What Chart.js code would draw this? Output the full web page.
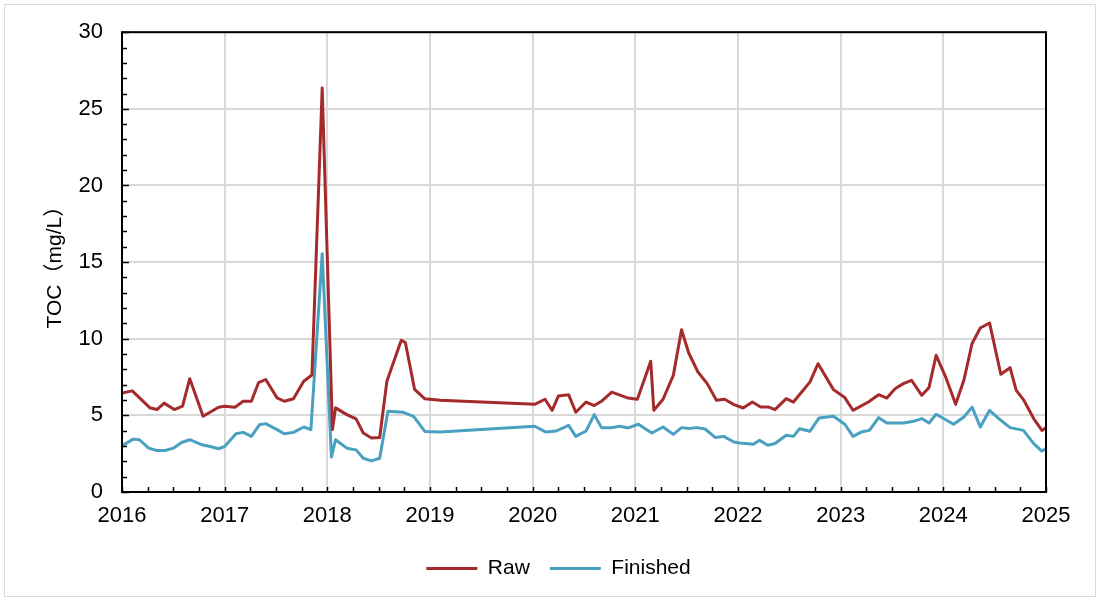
<!DOCTYPE html>
<html>
<head>
<meta charset="utf-8">
<title>TOC Raw vs Finished</title>
<script src="https://cdn.jsdelivr.net/npm/chart.js@4/dist/chart.umd.min.js"></script>
<style>
    html, body { margin: 0; padding: 0; background: #fff; }
    #wrap { position: relative; width: 1100px; height: 601px; }
    #frame { position: absolute; left: 4px; top: 4px; right: 4px; bottom: 4px; border: 1px solid #d9d9d9; pointer-events: none; }
</style>
</head>
<body>
<div id="wrap">
    <canvas id="myChart" width="1100" height="601"></canvas>
    <div id="frame"></div>
</div>
<script>
// Sample dates as decimal years, values in mg/L
const rawYears = [2016.00, 2016.10, 2016.27, 2016.34, 2016.41, 2016.51, 2016.59, 2016.66, 2016.79, 2016.94,
    2017.00, 2017.10, 2017.18, 2017.26, 2017.33, 2017.40, 2017.51, 2017.58, 2017.67, 2017.77, 2017.85, 2017.95,
    2018.05, 2018.08, 2018.19, 2018.28, 2018.35, 2018.43, 2018.51, 2018.58, 2018.72, 2018.76, 2018.85, 2018.95,
    2019.10, 2020.02, 2020.12, 2020.19, 2020.25, 2020.35, 2020.42, 2020.52, 2020.60, 2020.67, 2020.77, 2020.93,
    2021.02, 2021.15, 2021.18, 2021.27, 2021.37, 2021.45, 2021.52, 2021.61, 2021.70, 2021.79, 2021.87, 2021.96,
    2022.05, 2022.14, 2022.22, 2022.30, 2022.36, 2022.47, 2022.54, 2022.70, 2022.78, 2022.93,
    2023.04, 2023.12, 2023.27, 2023.37, 2023.45, 2023.53, 2023.61, 2023.69, 2023.79, 2023.86, 2023.93,
    2024.02, 2024.12, 2024.20, 2024.28, 2024.36, 2024.45, 2024.56, 2024.65, 2024.71, 2024.78, 2024.88, 2024.96, 2025.00];
const rawToc = [6.45, 6.6, 5.5, 5.38, 5.8, 5.38, 5.6, 7.39, 4.94, 5.53,
    5.6, 5.53, 5.92, 5.92, 7.13, 7.34, 6.14, 5.92, 6.08, 7.23, 7.63, 26.36,
    4.07, 5.49, 5.05, 4.77, 3.85, 3.52, 3.56, 7.23, 9.9, 9.75, 6.69, 6.08,
    5.99, 5.72, 6.05, 5.33, 6.26, 6.35, 5.2, 5.87, 5.64, 5.92, 6.52, 6.13,
    6.05, 8.53, 5.33, 6.05, 7.61, 10.59, 9.07, 7.83, 7.07, 5.98, 6.05, 5.7,
    5.48, 5.87, 5.54, 5.54, 5.37, 6.09, 5.87, 7.17, 8.37, 6.68,
    6.16, 5.33, 5.87, 6.35, 6.13, 6.74, 7.07, 7.29, 6.31, 6.81, 8.92,
    7.55, 5.72, 7.29, 9.69, 10.7, 11.03, 7.68, 8.11, 6.63, 6.03, 4.79, 4.02, 4.2];

const finYears = [2016.00, 2016.11, 2016.17, 2016.26, 2016.34, 2016.42, 2016.50, 2016.58, 2016.66, 2016.78, 2016.86, 2016.94,
    2017.00, 2017.11, 2017.18, 2017.26, 2017.34, 2017.40, 2017.51, 2017.58, 2017.67, 2017.77, 2017.84, 2017.95,
    2018.04, 2018.08, 2018.19, 2018.28, 2018.35, 2018.43, 2018.51, 2018.59, 2018.74, 2018.84, 2018.95,
    2019.10, 2020.02, 2020.13, 2020.23, 2020.35, 2020.42, 2020.52, 2020.60, 2020.67, 2020.77, 2020.85, 2020.93,
    2021.03, 2021.16, 2021.27, 2021.37, 2021.45, 2021.52, 2021.60, 2021.68, 2021.78, 2021.86, 2021.96,
    2022.02, 2022.15, 2022.21, 2022.29, 2022.36, 2022.47, 2022.54, 2022.60, 2022.70, 2022.79, 2022.93,
    2023.04, 2023.12, 2023.20, 2023.28, 2023.37, 2023.45, 2023.61, 2023.71, 2023.79, 2023.86, 2023.93,
    2024.10, 2024.20, 2024.28, 2024.36, 2024.45, 2024.56, 2024.65, 2024.78, 2024.88, 2024.96, 2025.00];
const finToc = [3.02, 3.45, 3.41, 2.86, 2.71, 2.71, 2.86, 3.23, 3.41, 3.08, 2.97, 2.82,
    2.97, 3.8, 3.89, 3.63, 4.39, 4.46, 4.07, 3.8, 3.89, 4.24, 4.07, 15.54,
    2.27, 3.41, 2.86, 2.75, 2.2, 2.03, 2.2, 5.27, 5.2, 4.94, 3.95,
    3.91, 4.29, 3.91, 3.98, 4.35, 3.63, 3.98, 5.05, 4.2, 4.2, 4.29, 4.18,
    4.42, 3.85, 4.24, 3.76, 4.2, 4.14, 4.2, 4.11, 3.55, 3.63, 3.26,
    3.2, 3.11, 3.37, 3.05, 3.16, 3.7, 3.63, 4.13, 3.96, 4.83, 4.94,
    4.42, 3.63, 3.91, 4.02, 4.85, 4.5, 4.5, 4.61, 4.79, 4.5, 5.07,
    4.42, 4.89, 5.54, 4.24, 5.33, 4.68, 4.2, 4.02, 3.16, 2.67, 2.83];

const seriesNames = ['Raw', 'Finished'];
const seriesColors = ['#a52a2c', '#4aa0c0'];

const yearMin = 2016, yearMax = 2025;
const tocMin = 0, tocMax = 30;

const FONT = '"Liberation Sans", Arial, "Noto Sans CJK SC", sans-serif';

function toPoints(xs, ys) {
    return xs.map((x, i) => ({ x: x, y: ys[i] }));
}

// black frame round the plot plus the small inside tick marks
const frameTicks = {
    id: 'frameTicks',
    afterDatasetsDraw(chart) {
        const { ctx, chartArea: a, scales: { x, y } } = chart;
        ctx.save();
        ctx.strokeStyle = '#000';
        ctx.lineWidth = 1.5;
        ctx.beginPath();
        for (let v = y.min; v <= y.max; v++) {
            const py = Math.round(y.getPixelForValue(v)) + 0.5;
            const len = v % 5 === 0 ? 7 : 5;
            ctx.moveTo(a.left, py);
            ctx.lineTo(a.left + len, py);
        }
        for (let q = x.min; q <= x.max + 0.001; q += 0.25) {
            const px = Math.round(x.getPixelForValue(q)) + 0.5;
            ctx.moveTo(px, a.bottom);
            ctx.lineTo(px, a.bottom - 5);
        }
        ctx.stroke();
        ctx.lineWidth = 2;
        ctx.strokeRect(a.left, a.top, a.right - a.left, a.bottom - a.top);
        ctx.restore();
    }
};

document.addEventListener('DOMContentLoaded', function() {
    const ctx = document.getElementById('myChart').getContext('2d');
    new Chart(ctx, {
        type: 'line',
        data: {
            datasets: [{
                label: seriesNames[0],
                data: toPoints(rawYears, rawToc),
                borderColor: seriesColors[0],
                backgroundColor: seriesColors[0],
                borderWidth: 3,
                pointRadius: 0,
                tension: 0,
                borderJoinStyle: 'round'
            }, {
                label: seriesNames[1],
                data: toPoints(finYears, finToc),
                borderColor: seriesColors[1],
                backgroundColor: seriesColors[1],
                borderWidth: 3,
                pointRadius: 0,
                tension: 0,
                borderJoinStyle: 'round'
            }]
        },
        options: {
            responsive: false,
            animation: false,
            layout: {
                // wide left padding keeps the legend centred where the original has it
                padding: { left: 71, right: 54, top: 28, bottom: 12 }
            },
            scales: {
                x: {
                    type: 'linear',
                    min: yearMin,
                    max: yearMax,
                    afterFit: (scale) => { scale.height = 46; },
                    grid: { color: '#d9d9d9', lineWidth: 2, drawTicks: false },
                    border: { display: false },
                    ticks: {
                        stepSize: 1,
                        padding: 11,
                        color: '#000',
                        font: { family: FONT, size: 22 },
                        maxRotation: 0,
                        callback: (v) => String(v)
                    }
                },
                y: {
                    min: tocMin,
                    max: tocMax,
                    afterFit: (scale) => { scale.width = 51; },
                    grid: { color: '#d9d9d9', lineWidth: 2, drawTicks: false },
                    border: { display: false },
                    ticks: {
                        stepSize: 5,
                        padding: 19,
                        color: '#000',
                        font: { family: FONT, size: 22 }
                    },
                    title: {
                        display: true,
                        text: 'TOC（mg/L）',
                        color: '#000',
                        padding: { top: -28, bottom: 4 },
                        font: { family: FONT, size: 21 }
                    }
                }
            },
            plugins: {
                legend: {
                    position: 'bottom',
                    labels: {
                        usePointStyle: true,
                        pointStyle: 'line',
                        pointStyleWidth: 51,
                        padding: 20,
                        color: '#000',
                        font: { family: FONT, size: 21 }
                    }
                },
                tooltip: { enabled: false }
            }
        },
        plugins: [frameTicks]
    });
});
</script>
</body>
</html>
